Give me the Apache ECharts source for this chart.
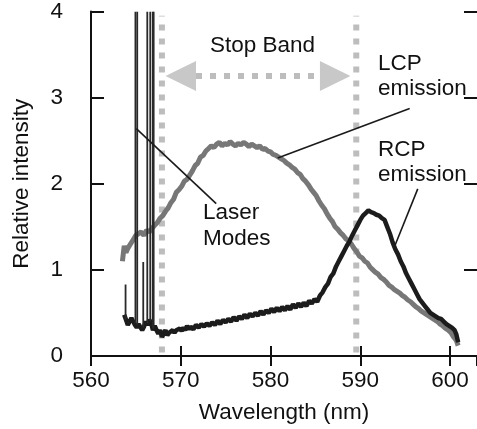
<!DOCTYPE html>
<html><head><meta charset="utf-8">
<script src="https://cdn.jsdelivr.net/npm/echarts@6/dist/echarts.min.js"></script>
<style>html,body{margin:0;padding:0;background:#fff}#c{width:477px;height:429px}</style>
</head><body><div id="c"></div>
<script>
// ---- data ----
const xTicks = [560, 570, 580, 590, 600];
const yTicks = [0, 1, 2, 3, 4];

// LCP emission (gray)
const lcp = [[563.5,1.1],[563.7,1.28],[563.9,1.2],[564.1,1.25],[564.4,1.3],[564.7,1.35],[565.0,1.4],[565.3,1.42],[565.6,1.44],[565.9,1.4],[566.2,1.46],[566.5,1.44],[566.8,1.48],[567.1,1.52],[567.4,1.55],[567.7,1.6],[568.0,1.63],[568.3,1.68],[568.6,1.72],[568.9,1.78],[569.2,1.82],[569.5,1.9],[569.8,1.93],[570.1,1.97],[570.4,2.03],[570.7,2.05],[571.0,2.1],[571.3,2.15],[571.6,2.21],[571.9,2.24],[572.2,2.31],[572.5,2.33],[572.8,2.38],[573.1,2.41],[573.4,2.44],[573.7,2.42],[574.0,2.46],[574.3,2.48],[574.6,2.44],[574.9,2.47],[575.2,2.45],[575.5,2.49],[575.8,2.46],[576.1,2.44],[576.4,2.47],[576.7,2.45],[577.0,2.48],[577.3,2.46],[577.6,2.43],[577.9,2.46],[578.2,2.44],[578.5,2.42],[578.8,2.44],[579.1,2.4],[579.4,2.41],[579.7,2.38],[580.0,2.37],[580.3,2.34],[580.6,2.33],[580.9,2.31],[581.2,2.29],[581.5,2.27],[581.8,2.24],[582.1,2.22],[582.4,2.19],[582.7,2.17],[583.0,2.13],[583.3,2.11],[583.6,2.06],[583.9,2.03],[584.2,1.99],[584.5,1.94],[584.8,1.9],[585.1,1.86],[585.4,1.8],[585.7,1.75],[586.0,1.71],[586.3,1.65],[586.6,1.6],[586.9,1.56],[587.2,1.5],[587.5,1.47],[587.8,1.43],[588.1,1.4],[588.4,1.36],[588.7,1.34],[589.0,1.3],[589.3,1.25],[589.6,1.21],[589.9,1.16],[590.2,1.14],[590.5,1.1],[590.8,1.08],[591.1,1.03],[591.4,1.0],[591.7,0.97],[592.0,0.95],[592.3,0.91],[592.6,0.89],[592.9,0.86],[593.2,0.82],[593.5,0.8],[593.8,0.77],[594.1,0.75],[594.4,0.73],[594.7,0.7],[595.0,0.68],[595.3,0.65],[595.6,0.63],[595.9,0.6],[596.2,0.57],[596.5,0.55],[596.8,0.52],[597.1,0.5],[597.4,0.48],[597.7,0.46],[598.0,0.44],[598.3,0.42],[598.6,0.4],[598.9,0.37],[599.2,0.35],[599.5,0.32],[599.8,0.3],[600.1,0.27],[600.4,0.22],[600.7,0.18],[600.9,0.12]];

// RCP emission (black)
const rcp = [[563.7,0.48],[563.9,0.42],[564.1,0.36],[564.3,0.4],[564.5,0.44],[564.7,0.4],[564.9,0.36],[565.1,0.33],[565.3,0.37],[565.5,0.35],[565.7,0.3],[565.9,0.34],[566.1,0.4],[566.3,0.36],[566.5,0.42],[566.7,0.38],[566.9,0.3],[567.1,0.35],[567.3,0.3],[567.5,0.26],[567.7,0.3],[567.9,0.22],[568.1,0.26],[568.3,0.3],[568.5,0.24],[568.7,0.27],[568.9,0.25],[569.1,0.3],[569.3,0.27],[569.5,0.3],[569.7,0.28],[569.9,0.32],[570.1,0.29],[570.3,0.33],[570.5,0.3],[570.7,0.35],[570.9,0.31],[571.1,0.34],[571.4,0.31],[571.7,0.36],[572.0,0.33],[572.3,0.37],[572.6,0.34],[572.9,0.38],[573.2,0.35],[573.5,0.39],[573.8,0.36],[574.1,0.41],[574.4,0.37],[574.7,0.42],[575.0,0.39],[575.3,0.43],[575.6,0.4],[575.9,0.45],[576.2,0.41],[576.5,0.46],[576.8,0.43],[577.1,0.48],[577.4,0.44],[577.7,0.49],[578.0,0.46],[578.3,0.5],[578.6,0.47],[578.9,0.52],[579.2,0.48],[579.5,0.53],[579.8,0.5],[580.1,0.55],[580.4,0.51],[580.7,0.56],[581.0,0.52],[581.3,0.57],[581.6,0.53],[581.9,0.58],[582.2,0.54],[582.5,0.6],[582.8,0.56],[583.1,0.61],[583.4,0.57],[583.7,0.62],[584.0,0.58],[584.3,0.64],[584.6,0.61],[584.9,0.66],[585.2,0.63],[585.5,0.7],[585.8,0.74],[586.1,0.8],[586.4,0.84],[586.7,0.92],[587.0,0.96],[587.3,1.04],[587.6,1.1],[587.9,1.16],[588.2,1.22],[588.5,1.28],[588.8,1.33],[589.1,1.4],[589.4,1.46],[589.7,1.52],[590.0,1.58],[590.3,1.63],[590.6,1.66],[590.9,1.69],[591.2,1.67],[591.5,1.66],[591.8,1.64],[592.1,1.63],[592.4,1.6],[592.7,1.58],[593.0,1.5],[593.3,1.42],[593.6,1.32],[593.9,1.24],[594.2,1.18],[594.5,1.1],[594.8,1.04],[595.1,0.96],[595.4,0.9],[595.7,0.84],[596.0,0.78],[596.3,0.72],[596.6,0.66],[596.9,0.62],[597.2,0.58],[597.5,0.54],[597.8,0.5],[598.1,0.48],[598.4,0.46],[598.7,0.44],[599.0,0.43],[599.3,0.4],[599.6,0.37],[599.9,0.35],[600.2,0.33],[600.5,0.3],[600.7,0.25],[600.9,0.16]];

// Laser modes: [wavelength, base, top]
const laserModes = [[563.85,0.42,0.83],[564.95,0.38,4],[565.15,0.36,4],[565.82,0.33,1.09],[566.27,0.38,4],[566.6,0.4,4],[566.88,0.32,4],[566.98,0.32,4]];

// Stop band edges and arrow
const stopBand = [567.9, 589.55];
const arrowY = 3.25;
const arrowHeads = [[568.3,571.7],[588.9,585.5]]; // [tip, base]
const arrowShaft = [571.7, 585.5];

// Leader lines [x1,y1,x2,y2]
const leaders = [[565.05,2.64,573.95,1.77],[595.5,2.875,580.8,2.3],[596.4,1.94,593.85,1.28]];

// ---- chart ----
const FONT = 'Liberation Sans, Arial, sans-serif';
const FS = 22.5;
const chart = echarts.init(document.getElementById('c'), null, {renderer:'canvas'});
const axisLine = {show:true, lineStyle:{color:'#111', width:2}};

const dotted = {color:'#bdbdbd', width:6, type:[6,8], cap:'butt'};

chart.setOption({
  animation:false,
  backgroundColor:'#fff',
  grid:{left:91, right:-6, top:7, bottom:70, containLabel:false},
  xAxis:[{
    type:'value', min:560, max:603, interval:10, position:'bottom',
    axisLine:axisLine, splitLine:{show:false},
    axisTick:{show:true, inside:true, length:10, lineStyle:{color:'#111', width:2}},
    axisLabel:{show:true, color:'#111', fontSize:FS, fontFamily:FONT, margin:13, showMaxLabel:false,
      formatter:v=>xTicks.includes(v)?String(v):''},
    name:'Wavelength (nm)', nameLocation:'middle', nameGap:45,
    nameTextStyle:{color:'#111', fontSize:FS, fontFamily:FONT}
  },{
    type:'value', min:560, max:603, interval:10, position:'top',
    axisLine:axisLine, splitLine:{show:false},
    axisTick:{show:true, inside:true, length:10, lineStyle:{color:'#111', width:2}},
    axisLabel:{show:false}
  }],
  yAxis:[{
    type:'value', min:0, max:4, interval:1, position:'left',
    axisLine:axisLine, splitLine:{show:false},
    axisTick:{show:true, inside:true, length:13, lineStyle:{color:'#111', width:2}},
    axisLabel:{show:true, color:'#111', fontSize:FS, fontFamily:FONT, margin:28,
      formatter:v=>yTicks.includes(v)?String(v):''},
    name:'Relative intensity', nameLocation:'middle', nameGap:58,
    nameTextStyle:{color:'#111', fontSize:FS, fontFamily:FONT}
  },{
    type:'value', min:0, max:4, interval:1, position:'right',
    axisLine:{show:false}, splitLine:{show:false},
    axisTick:{show:true, inside:true, length:13, lineStyle:{color:'#111', width:2}},
    axisLabel:{show:false}
  }],
  series:[
    {type:'line', name:'stopL', data:[[stopBand[0],0.04],[stopBand[0],3.95]], showSymbol:false, lineStyle:dotted, z:1, silent:true},
    {type:'line', name:'stopR', data:[[stopBand[1],0.04],[stopBand[1],3.95]], showSymbol:false, lineStyle:dotted, z:1, silent:true},
    {type:'line', name:'shaft', data:[[arrowShaft[0],arrowY],[arrowShaft[1],arrowY]], showSymbol:false, lineStyle:dotted, z:1, silent:true},
    {type:'custom', name:'arrows', data:arrowHeads, z:2, silent:true,
      renderItem:(p,api)=>{
        const tip=api.coord([api.value(0),arrowY]), base=api.coord([api.value(1),arrowY]);
        return {type:'polygon', shape:{points:[tip,[base[0],base[1]-15],[base[0],base[1]+15]]},
          style:{fill:'#c8c8c8'}};
      }},
    {type:'line', name:'LCP', data:lcp, showSymbol:false, lineStyle:{color:'#777', width:5}, z:3},
    {type:'line', name:'RCP', data:rcp, showSymbol:false, lineStyle:{color:'#1c1c1c', width:4.5}, z:4},
    {type:'custom', name:'laser', data:laserModes, z:5, clip:true, silent:true,
      encode:{x:0, y:[1,2]},
      renderItem:(p,api)=>{
        const a=api.coord([api.value(0),api.value(1)]), b=api.coord([api.value(0),api.value(2)]);
        return {type:'line', shape:{x1:a[0],y1:a[1],x2:b[0],y2:b[1]}, style:{stroke:'#2a2a2a', lineWidth:1.8}};
      }},
    {type:'custom', name:'leaders', data:leaders, z:6, silent:true,
      encode:{x:[0,2], y:[1,3]},
      renderItem:(p,api)=>{
        const a=api.coord([api.value(0),api.value(1)]), b=api.coord([api.value(2),api.value(3)]);
        return {type:'line', shape:{x1:a[0],y1:a[1],x2:b[0],y2:b[1]}, style:{stroke:'#1a1a1a', lineWidth:1.6}};
      }}
  ],
  graphic:[
    ['Stop Band',210,45.5],['LCP',378,64],['emission',378,89],
    ['RCP',378,150],['emission',378,175],['Laser',203,213],['Modes',203,239]
  ].map(([t,x,y])=>({type:'text', x:x, y:y, z:10, silent:true,
      style:{text:t, fill:'#111', font:FS+'px '+FONT, align:'left', verticalAlign:'middle'}}))
});
</script></body></html>
